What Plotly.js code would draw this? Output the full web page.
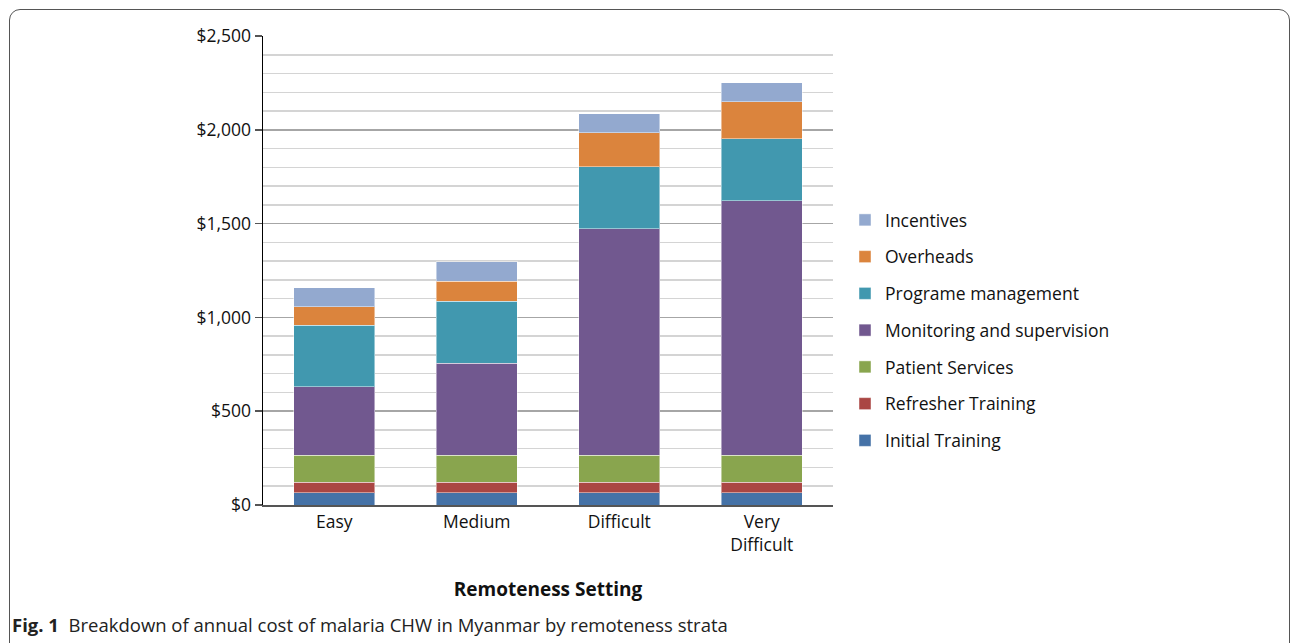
<!DOCTYPE html>
<html>
<head>
<meta charset="utf-8">
<script src="https://cdn.plot.ly/plotly-3.0.1.min.js"></script>
<style>
  html, body { margin: 0; padding: 0; background: #fff; overflow: hidden; }
  #frame { position: absolute; left: 9px; top: 9px; width: 1281px; height: 700px;
           border: 1.5px solid #555; border-radius: 11px 11px 0 0; box-sizing: border-box; }
  #chart { position: absolute; left: 0; top: 0; width: 1292px; height: 643px; }
</style>
</head>
<body>
<div id="frame"></div>
<div id="chart"></div>
<script>
const categories = ["Easy", "Medium", "Difficult", "Very<br>Difficult"];
const initialTraining = [65, 65, 65, 65];
const refresherTraining = [55, 55, 55, 55];
const patientServices = [145, 145, 145, 145];
const monitoringSupervision = [365, 490, 1208, 1357];
const programeManagement = [329, 331, 330, 331];
const overheads = [98, 108, 182, 197];
const incentives = [101, 103, 101, 101];
const yTicks = [0, 500, 1000, 1500, 2000, 2500];
const yTickLabels = ["$0", "$500", "$1,000", "$1,500", "$2,000", "$2,500"];

const seriesNames = ["Initial Training", "Refresher Training", "Patient Services",
  "Monitoring and supervision", "Programe management", "Overheads", "Incentives"];
const seriesValues = [initialTraining, refresherTraining, patientServices,
  monitoringSupervision, programeManagement, overheads, incentives];
const seriesColors = ["#4572A7", "#AA4643", "#89A54E", "#71588F", "#4198AF", "#DB843D", "#93A9CF"];

const FONT = '"Open Sans", "Noto Sans", sans-serif';

const traces = seriesNames.map((n, i) => ({
  type: 'bar', name: n, x: categories, y: seriesValues[i],
  legendgroup: 'g' + i, legendrank: seriesNames.length - i,
  marker: { color: seriesColors[i], line: { color: 'rgba(255,255,255,0.45)', width: 1 } }
}));

const L = 263, R = 833, T = 36, B = 505, W = 1292, H = 643;
const px2x = p => (p - L) / (R - L);
const py2y = p => (B - p) / (B - T);

const layout = {
  width: W, height: H,
  margin: { l: L, r: W - R, t: T, b: H - B, pad: 0 },
  paper_bgcolor: 'rgba(0,0,0,0)', plot_bgcolor: 'rgba(0,0,0,0)',
  font: { family: FONT, size: 17, color: '#111' },
  barmode: 'stack', bargap: 0.43,
  showlegend: true,
  legend: { x: px2x(845), y: py2y(202), xanchor: 'left', yanchor: 'top',
            traceorder: 'grouped', tracegroupgap: 11,
            font: { family: FONT, size: 17.5, color: '#111' }, itemwidth: 30 },
  xaxis: {
    type: 'category', showline: true, linecolor: '#555', linewidth: 2,
    ticks: '', tickfont: { family: FONT, size: 17.5, color: '#111' },
    title: { text: '<b>Remoteness Setting</b>', font: { family: FONT, size: 19, color: '#111' }, standoff: 28 },
    showgrid: false, zeroline: false, fixedrange: true
  },
  yaxis: {
    range: [0, 2500], tickvals: yTicks, ticktext: yTickLabels,
    showline: true, linecolor: '#000', linewidth: 1.5,
    ticks: 'outside', ticklen: 7, tickcolor: '#555', tickwidth: 1.5,
    tickfont: { family: FONT, size: 17.5, color: '#111' },
    showgrid: true, gridcolor: '#a6a6a6', gridwidth: 1.5,
    minor: { dtick: 100, showgrid: true, gridcolor: '#d4d4d4', gridwidth: 1.5, ticks: '' },
    zeroline: false, fixedrange: true
  },
  annotations: [{
    xref: 'paper', yref: 'paper', x: px2x(10), y: py2y(624), xanchor: 'left', yanchor: 'middle',
    showarrow: false, align: 'left',
    text: '<b>Fig. 1</b>  Breakdown of annual cost of malaria CHW in Myanmar by remoteness strata',
    font: { family: FONT, size: 18.5, color: '#222' }
  }]
};

Plotly.newPlot('chart', traces, layout, { displayModeBar: false, staticPlot: true });
</script>
</body>
</html>
